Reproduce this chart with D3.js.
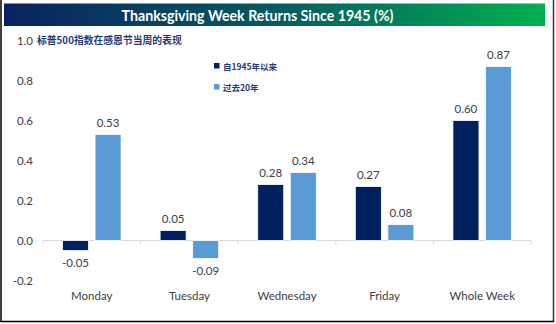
<!DOCTYPE html>
<html><head><meta charset="utf-8">
<script src="https://cdn.jsdelivr.net/npm/d3@7/dist/d3.min.js"></script>
<style>body{margin:0;background:#fff}svg{display:block}</style>
</head><body>
<svg id="c" width="556" height="324"></svg>
<script>
const categories = ["Monday","Tuesday","Wednesday","Friday","Whole Week"];
const seriesNames = ["自1945年以来","过去20年"];
const since1945 = [-0.05, 0.05, 0.28, 0.27, 0.60];
const last20 = [0.53, -0.09, 0.34, 0.08, 0.87];
const yTicks = [-0.2, 0.0, 0.2, 0.4, 0.6, 0.8, 1.0];
const colors = ["#002060", "#5b9bd5"];
const title = "Thanksgiving Week Returns Since 1945 (%)";
const subtitle = "标普500指数在感恩节当周的表现";

const svg = d3.select("#c");
const font = "Lato, 'Open Sans', sans-serif";
const cjk = "'Noto Sans CJK SC', sans-serif";

// frame
svg.append("line").attr("x1",1).attr("x2",1).attr("y1",0).attr("y2",322).attr("stroke","#000").attr("stroke-width",1.5);
svg.append("line").attr("x1",553.5).attr("x2",553.5).attr("y1",0).attr("y2",322).attr("stroke","#333").attr("stroke-width",1.5);
svg.append("line").attr("x1",0).attr("x2",554).attr("y1",321.5).attr("y2",321.5).attr("stroke","#000").attr("stroke-width",1.5);

// title bar
const defs = svg.append("defs");
const g = defs.append("linearGradient").attr("id","tg").attr("x1","0%").attr("x2","100%");
g.append("stop").attr("offset","0%").attr("stop-color","#0a2260");
g.append("stop").attr("offset","50%").attr("stop-color","#065a60");
g.append("stop").attr("offset","100%").attr("stop-color","#00b050");
svg.append("rect").attr("x",4).attr("y",3.5).attr("width",541).attr("height",22.5).attr("fill","url(#tg)");
svg.append("text").attr("x",257.5).attr("y",20.5).attr("text-anchor","middle")
  .attr("font-family",font).attr("font-weight","bold").attr("font-size",14.2)
  .attr("fill","#fff").text(title);

// scales
const x0 = d3.scaleBand().domain(categories).range([43, 531]).padding(0);
const x1 = d3.scaleBand().domain(seriesNames).range([0, x0.bandwidth()]).paddingInner(0.2).paddingOuter(0.6);
const y = d3.scaleLinear().domain([-0.2, 1.0]).range([280.5, 40.5]);

// y labels
svg.append("g").selectAll("text").data(yTicks).join("text")
  .attr("x",33).attr("y",d=>y(d)+4).attr("text-anchor","end")
  .attr("font-family",font).attr("font-size",11.5).attr("fill","#404040")
  .text(d=>d.toFixed(1));

// subtitle
svg.append("text").attr("x",37).attr("y",44)
  .attr("font-family",cjk).attr("font-weight","bold").attr("font-size",9.8)
  .attr("fill","#1f3b78").text(subtitle);

// x axis
const ax = svg.append("g").attr("transform",`translate(0,${y(0)})`);
ax.append("line").attr("x1",43).attr("x2",531).attr("y1",0).attr("y2",0).attr("stroke","#d9d9d9");
ax.selectAll("line.t").data([...categories.map(c=>x0(c)), 531]).join("line").attr("class","t")
  .attr("x1",d=>d).attr("x2",d=>d).attr("y1",0).attr("y2",4).attr("stroke","#d9d9d9");

// category labels
svg.append("g").selectAll("text").data(categories).join("text")
  .attr("x",d=>x0(d)+x0.bandwidth()/2).attr("y",299.5).attr("text-anchor","middle")
  .attr("font-family",font).attr("font-size",11.5).attr("fill","#404040").text(d=>d);

// bars
const series = [since1945, last20];
series.forEach((vals,si)=>{
  const name = seriesNames[si];
  const grp = svg.append("g");
  grp.selectAll("rect").data(vals).join("rect")
    .attr("x",(d,i)=>x0(categories[i])+x1(name))
    .attr("width",x1.bandwidth())
    .attr("y",d=>y(Math.max(0,d)))
    .attr("height",d=>Math.abs(y(d)-y(0)))
    .attr("fill",colors[si]).attr("stroke","#ffffff").attr("stroke-width",0.8);
  grp.selectAll("text").data(vals).join("text")
    .attr("x",(d,i)=>x0(categories[i])+x1(name)+x1.bandwidth()/2)
    .attr("y",d=> d>=0 ? y(d)-8 : y(d)+16)
    .attr("text-anchor","middle")
    .attr("font-family",font).attr("font-size",11.5).attr("fill","#404040")
    .text(d=>d.toFixed(2));
});

// legend
const lg = svg.append("g");
seriesNames.forEach((n,i)=>{
  lg.append("rect").attr("x",214).attr("y",i?84:63).attr("width",5.5).attr("height",5.5).attr("fill",colors[i]);
  lg.append("text").attr("x",223).attr("y",i?90.5:69.5).attr("font-family",cjk).attr("font-weight","bold")
    .attr("font-size",8.5).attr("fill","#1f3b78").text(n);
});
</script>
</body></html>
